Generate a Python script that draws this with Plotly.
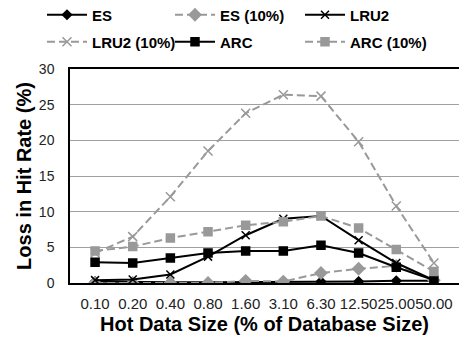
import plotly.graph_objects as go

categories = ["0.10", "0.20", "0.40", "0.80", "1.60", "3.10", "6.30", "12.50", "25.00", "50.00"]
es = [0.2, 0.1, 0.1, 0.1, 0.1, 0.1, 0.2, 0.2, 0.3, 0.3]
es_10 = [0.0, 0.0, 0.0, 0.0, 0.3, 0.2, 1.4, 2.0, 2.4, 0.4]
lru2 = [0.4, 0.5, 1.2, 3.7, 6.7, 9.0, 9.4, 6.0, 2.8, 0.4]
lru2_10 = [4.2, 6.5, 12.1, 18.5, 23.8, 26.4, 26.2, 19.8, 10.8, 2.8]
arc = [2.9, 2.8, 3.5, 4.2, 4.5, 4.5, 5.3, 4.2, 2.2, 0.4]
arc_10 = [4.5, 5.1, 6.3, 7.2, 8.1, 8.6, 9.4, 7.7, 4.7, 1.6]

GRAY = "#999999"
DASH = "8px,4px"

series = [
    ("ES", es, "black", "solid", "diamond", 7),
    ("ES (10%)", es_10, GRAY, DASH, "diamond", 9),
    ("LRU2", lru2, "black", "solid", "x-thin-open", 8),
    ("LRU2 (10%)", lru2_10, GRAY, DASH, "x-thin-open", 9),
    ("ARC", arc, "black", "solid", "square", 8),
    ("ARC (10%)", arc_10, GRAY, DASH, "square", 8),
]

# legend slot positions (container pixels): column x, row y
legend_pos = [(42, 15), (170, 15), (300, 15), (42, 42), (170, 42), (300, 42)]

fig = go.Figure()
legends = {}
for i, (name, vals, color, dash, sym, size) in enumerate(series):
    lg = "legend" if i == 0 else f"legend{i + 1}"
    fig.add_trace(go.Scatter(
        x=categories, y=vals, name=name, mode="lines+markers",
        line=dict(color=color, width=2, dash=dash),
        marker=dict(symbol=sym, size=size, color=color,
                    line=dict(color=color, width=1.5)),
        legend=lg, showlegend=True,
    ))
    px, py = legend_pos[i]
    legends[lg] = dict(
        orientation="h", xref="container", yref="container",
        x=px / 459, y=1 - py / 340, xanchor="left", yanchor="middle",
        font=dict(family="Liberation Sans, Arial, sans-serif", size=15,
                  color="black", weight="bold"),
        bgcolor="rgba(0,0,0,0)", borderwidth=0, itemwidth=40,
    )

fig.update_layout(
    width=459, height=340, showlegend=True,
    margin=dict(l=70, r=0, t=69, b=57, autoexpand=False),
    paper_bgcolor="white", plot_bgcolor="white",
    font=dict(family="Liberation Sans, Arial, sans-serif", color="black"),
    xaxis=dict(
        type="category", categoryorder="array", categoryarray=categories,
        showgrid=False, showline=True, linecolor="black", linewidth=1.5, mirror=True,
        ticks="", tickangle=0, tickfont=dict(size=15, color="#222"), ticklabelstandoff=6,
        title=dict(text="Hot Data Size (% of Database Size)",
                   font=dict(size=20, weight="bold", color="black"), standoff=6),
    ),
    yaxis=dict(
        range=[0, 30], tickvals=[0, 5, 10, 15, 20, 25, 30],
        showgrid=True, gridcolor="#a0a0a0", gridwidth=1,
        showline=True, linecolor="black", linewidth=1.5, mirror=True,
        ticks="", tickfont=dict(size=14, color="#222"), zeroline=False,
        ticklabelstandoff=11,
        title=dict(text="Loss in Hit Rate (%)",
                   font=dict(size=20, weight="bold", color="black"), standoff=2),
    ),
    **legends,
)

fig.write_html("out.html", config={"displayModeBar": False},
               post_script="document.body.style.margin='0';")
